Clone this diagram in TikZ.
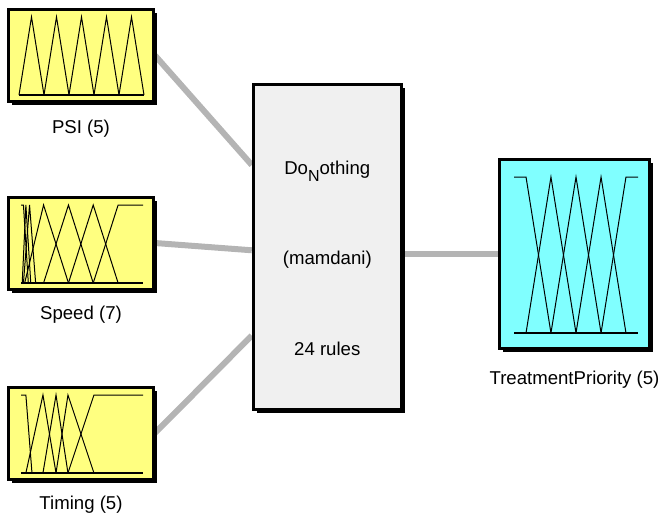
\documentclass[tikz,border=0pt]{standalone}
\usepackage{fontspec}
\setmainfont{Liberation Sans}
\usetikzlibrary{positioning,calc,shadows,backgrounds}
\definecolor{invar}{HTML}{FFFF80}
\definecolor{outvar}{HTML}{80FFFF}
\definecolor{sysfill}{HTML}{F0F0F0}
\definecolor{wirecol}{HTML}{B4B4B4}
\tikzset{var node/.style={rectangle,draw,line width=3pt,inner sep=0pt,
    drop shadow={shadow xshift=3.5pt,shadow yshift=-3.5pt,fill=black,opacity=1}},
  in var/.style={var node,fill=invar,minimum width=145pt,minimum height=92pt},
  out var/.style={var node,fill=outvar,minimum width=150pt,minimum height=189pt},
  rule box/.style={var node,fill=sysfill,minimum width=148pt,minimum height=325pt},
  var label/.style={inner sep=0pt,text height=13.5pt,text depth=4pt,font=\fontsize{18.6}{21}\selectfont},
  sys text/.style={var label},
  wire/.style={draw=wirecol,line width=6pt},
  mf/.style={line width=1pt},
  mf axis/.style={line width=1.6pt},}
\begin{document}
\begin{tikzpicture}[x=1pt,y=-1pt]
  \useasboundingbox (0,0) rectangle (664,519);
  \node[in var] (psi) at (81,55.5) {};
  \node[in var] (speed) at (81,243) {};
  \node[in var] (timing) at (81,433) {};
  \node[rule box] (rules) at (327.3,247) {};
  \node[out var] (treat) at (574.5,254) {};

  \node[var label] (psilabel) [below=16.5pt of psi] {PSI (5)};
  \node[var label] (speedlabel) [below=15.5pt of speed] {Speed (7)};
  \node[var label] (timinglabel) [below=15.5pt of timing] {Timing (5)};
  \node[var label] (treatlabel) [below=20.5pt of treat] {TreatmentPriority (5)};

  \node[sys text] (mamd) at ([yshift=-13pt]rules.center) {(mamdani)};
  \node[sys text] (sysname) [above=72.5pt of mamd] {Do\raisebox{-7pt}{\fontsize{16}{16}\selectfont N}othing};
  \node[sys text] (nrules) [below=72.5pt of mamd] {24 rules};

  \begin{scope}[on background layer]
    \draw[wire] (psi.east) -- ($(rules.north west)!0.25!(rules.south west)$);
    \draw[wire] (speed.east) -- ($(rules.north west)!0.51!(rules.south west)$);
    \draw[wire] (timing.east) -- ($(rules.north west)!0.77!(rules.south west)$);
    \draw[wire] (treat.west) -- (treat.west -| rules.east);
  \end{scope}

  % PSI
  \begin{scope}[shift={(19,95)},x=125pt,y=78pt]
    \draw[mf axis] (0,0) -- (1,0);
    \foreach \i in {0,...,4}
      \draw[mf] (\i/5,0) -- (\i/5+0.1,1) -- (\i/5+0.2,0);
  \end{scope}

  % Speed
  \begin{scope}[shift={(21,283)},x=122pt,y=78pt]
    \draw[mf axis] (0,0) -- (1,0);
    \draw[mf] (0,1) -- (0.02,1) -- (0.06,0);
    \draw[mf] (0.01,0) -- (0.04,1) -- (0.08,0);
    \draw[mf] (0.02,0) -- (0.07,1) -- (0.12,0);
    \draw[mf] (0.03,0) -- (0.185,1) -- (0.389,0);
    \draw[mf] (0.185,0) -- (0.389,1) -- (0.592,0);
    \draw[mf] (0.389,0) -- (0.592,1) -- (0.796,0);
    \draw[mf] (0.592,0) -- (0.796,1) -- (1,1);
  \end{scope}

  % Timing
  \begin{scope}[shift={(21,473)},x=122pt,y=78pt]
    \draw[mf axis] (0,0) -- (1,0);
    \draw[mf] (0,1) -- (0.04,1) -- (0.09,0);
    \draw[mf] (0.04,0) -- (0.18,1) -- (0.287,0);
    \draw[mf] (0.18,0) -- (0.287,1) -- (0.385,0);
    \draw[mf] (0.287,0) -- (0.385,1) -- (0.598,0);
    \draw[mf] (0.385,0) -- (0.598,1) -- (1,1);
  \end{scope}

  % TreatmentPriority
  \begin{scope}[shift={(514,333)},x=124pt,y=156pt]
    \draw[mf axis] (0,0) -- (1,0);
    \draw[mf] (0,1) -- (0.097,1) -- (0.298,0);
    \draw[mf] (0.097,0) -- (0.298,1) -- (0.5,0);
    \draw[mf] (0.298,0) -- (0.5,1) -- (0.702,0);
    \draw[mf] (0.5,0) -- (0.702,1) -- (0.903,0);
    \draw[mf] (0.702,0) -- (0.903,1) -- (1,1);
  \end{scope}
\end{tikzpicture}
\end{document}
